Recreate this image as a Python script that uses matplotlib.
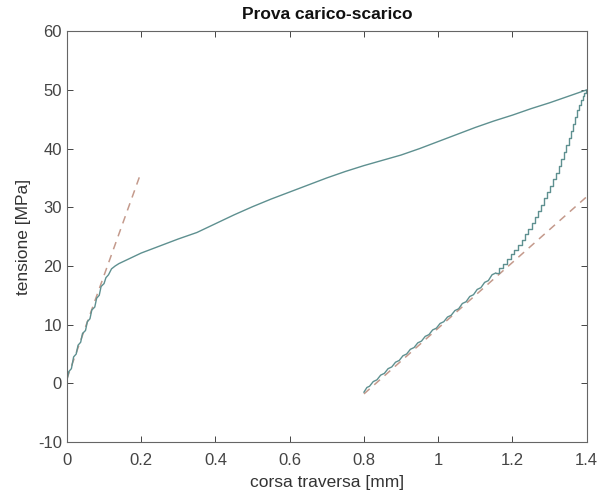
import matplotlib
matplotlib.use("Agg")
import matplotlib.pyplot as plt

# ── data ─────────────────────────────────────────────────────────────────────
load_x = [0.000, 0.005, 0.012, 0.018, 0.025, 0.030, 0.037, 0.042, 0.050, 0.055,
          0.062, 0.067, 0.075, 0.080, 0.087, 0.092, 0.100, 0.105, 0.112, 0.120,
          0.130, 0.140, 0.150, 0.200, 0.250, 0.300, 0.350, 0.400, 0.450, 0.500,
          0.550, 0.600, 0.650, 0.700, 0.750, 0.800, 0.850, 0.900, 0.950, 1.000,
          1.050, 1.100, 1.150, 1.200, 1.250, 1.300, 1.350, 1.400]
load_y = [0.5, 2.0, 2.5, 4.5, 5.0, 6.5, 7.0, 8.5, 9.0, 10.5,
          11.0, 12.5, 13.0, 14.5, 15.0, 16.5, 17.0, 18.0, 18.5, 19.5,
          20.0, 20.4, 20.7, 22.2, 23.4, 24.6, 25.7, 27.2, 28.7, 30.1,
          31.4, 32.6, 33.8, 35.0, 36.1, 37.1, 38.0, 38.9, 40.0, 41.2,
          42.4, 43.6, 44.7, 45.7, 46.8, 47.8, 48.9, 50.0]

# lower unloading branch (fine zigzag)
unload_lo_x = [0.800, 0.808, 0.815, 0.825, 0.835, 0.845, 0.855, 0.865, 0.875, 0.885,
               0.895, 0.905, 0.915, 0.925, 0.935, 0.945, 0.955, 0.965, 0.975, 0.985,
               0.995, 1.005, 1.015, 1.025, 1.035, 1.045, 1.055, 1.065, 1.075, 1.085,
               1.095, 1.105, 1.115, 1.125, 1.135, 1.145, 1.155]
unload_lo_y = [-1.5, -0.7, -0.5, 0.3, 0.6, 1.4, 1.7, 2.5, 2.8, 3.6,
               3.9, 4.7, 5.0, 5.8, 6.1, 6.9, 7.2, 8.0, 8.3, 9.1,
               9.4, 10.2, 10.5, 11.3, 11.6, 12.4, 12.7, 13.6, 13.9, 14.8,
               15.1, 16.0, 16.3, 17.2, 17.5, 18.5, 18.8]
# upper unloading branch (visible steps)
unload_hi_x = [1.155, 1.165, 1.175, 1.185, 1.195, 1.205, 1.215, 1.225, 1.234, 1.243,
               1.252, 1.261, 1.270, 1.278, 1.286, 1.294, 1.302, 1.310, 1.317, 1.324,
               1.331, 1.338, 1.345, 1.351, 1.357, 1.363, 1.369, 1.375, 1.380, 1.385,
               1.390, 1.394, 1.398, 1.400]
unload_hi_y = [18.8, 19.6, 20.4, 21.2, 22.0, 22.8, 23.6, 24.5, 25.4, 26.3,
               27.3, 28.3, 29.4, 30.4, 31.5, 32.6, 33.7, 34.8, 35.9, 37.0,
               38.2, 39.4, 40.6, 41.8, 43.0, 44.2, 45.4, 46.5, 47.4, 48.2,
               48.9, 49.4, 49.8, 50.0]

fit1_x = [0.0, 0.2]
fit1_y = [0.8, 36.0]
fit2_x = [0.8, 1.4]
fit2_y = [-1.8, 31.8]

# ── plot ─────────────────────────────────────────────────────────────────────
plt.rcParams["font.family"] = ["Liberation Sans", "DejaVu Sans"]
plt.rcParams["axes.unicode_minus"] = False

fig = plt.figure(figsize=(6.03, 4.95), dpi=100)
ax = fig.add_axes([0.111, 0.107, 0.862, 0.830])

line_col = "#5e9090"
dash_col = "#c49a8c"

ax.plot(fit1_x, fit1_y, color=dash_col, lw=1.1, ls=(0, (5, 4)))
ax.plot(fit2_x, fit2_y, color=dash_col, lw=1.1, ls=(0, (5, 4)))
ax.plot(load_x, load_y, color=line_col, lw=1.0)
ax.plot(unload_lo_x, unload_lo_y, color=line_col, lw=1.0)
ax.plot(unload_hi_x, unload_hi_y, color=line_col, lw=1.0, drawstyle="steps-post")

ax.set_xlim(0, 1.4)
ax.set_ylim(-10, 60)
ax.set_xticks([0, 0.2, 0.4, 0.6, 0.8, 1.0, 1.2, 1.4])
ax.set_xticklabels(["0", "0.2", "0.4", "0.6", "0.8", "1", "1.2", "1.4"])
ax.set_yticks(range(-10, 61, 10))

ax.tick_params(direction="in", top=True, right=True, labelsize=12,
               colors="#444444", length=4, width=0.7)
ax.tick_params(axis="x", pad=8)
for s in ax.spines.values():
    s.set_color("#666666")
    s.set_linewidth(0.8)

ax.set_xlabel("corsa traversa [mm]", fontsize=12.5, color="#333333", labelpad=5)
ax.set_ylabel("tensione [MPa]", fontsize=12.5, color="#333333", labelpad=5)
ax.set_title("Prova carico-scarico", fontsize=12.5, fontweight="bold",
             color="#111111", pad=9)

fig.savefig("out.png", dpi=100, facecolor="white")
